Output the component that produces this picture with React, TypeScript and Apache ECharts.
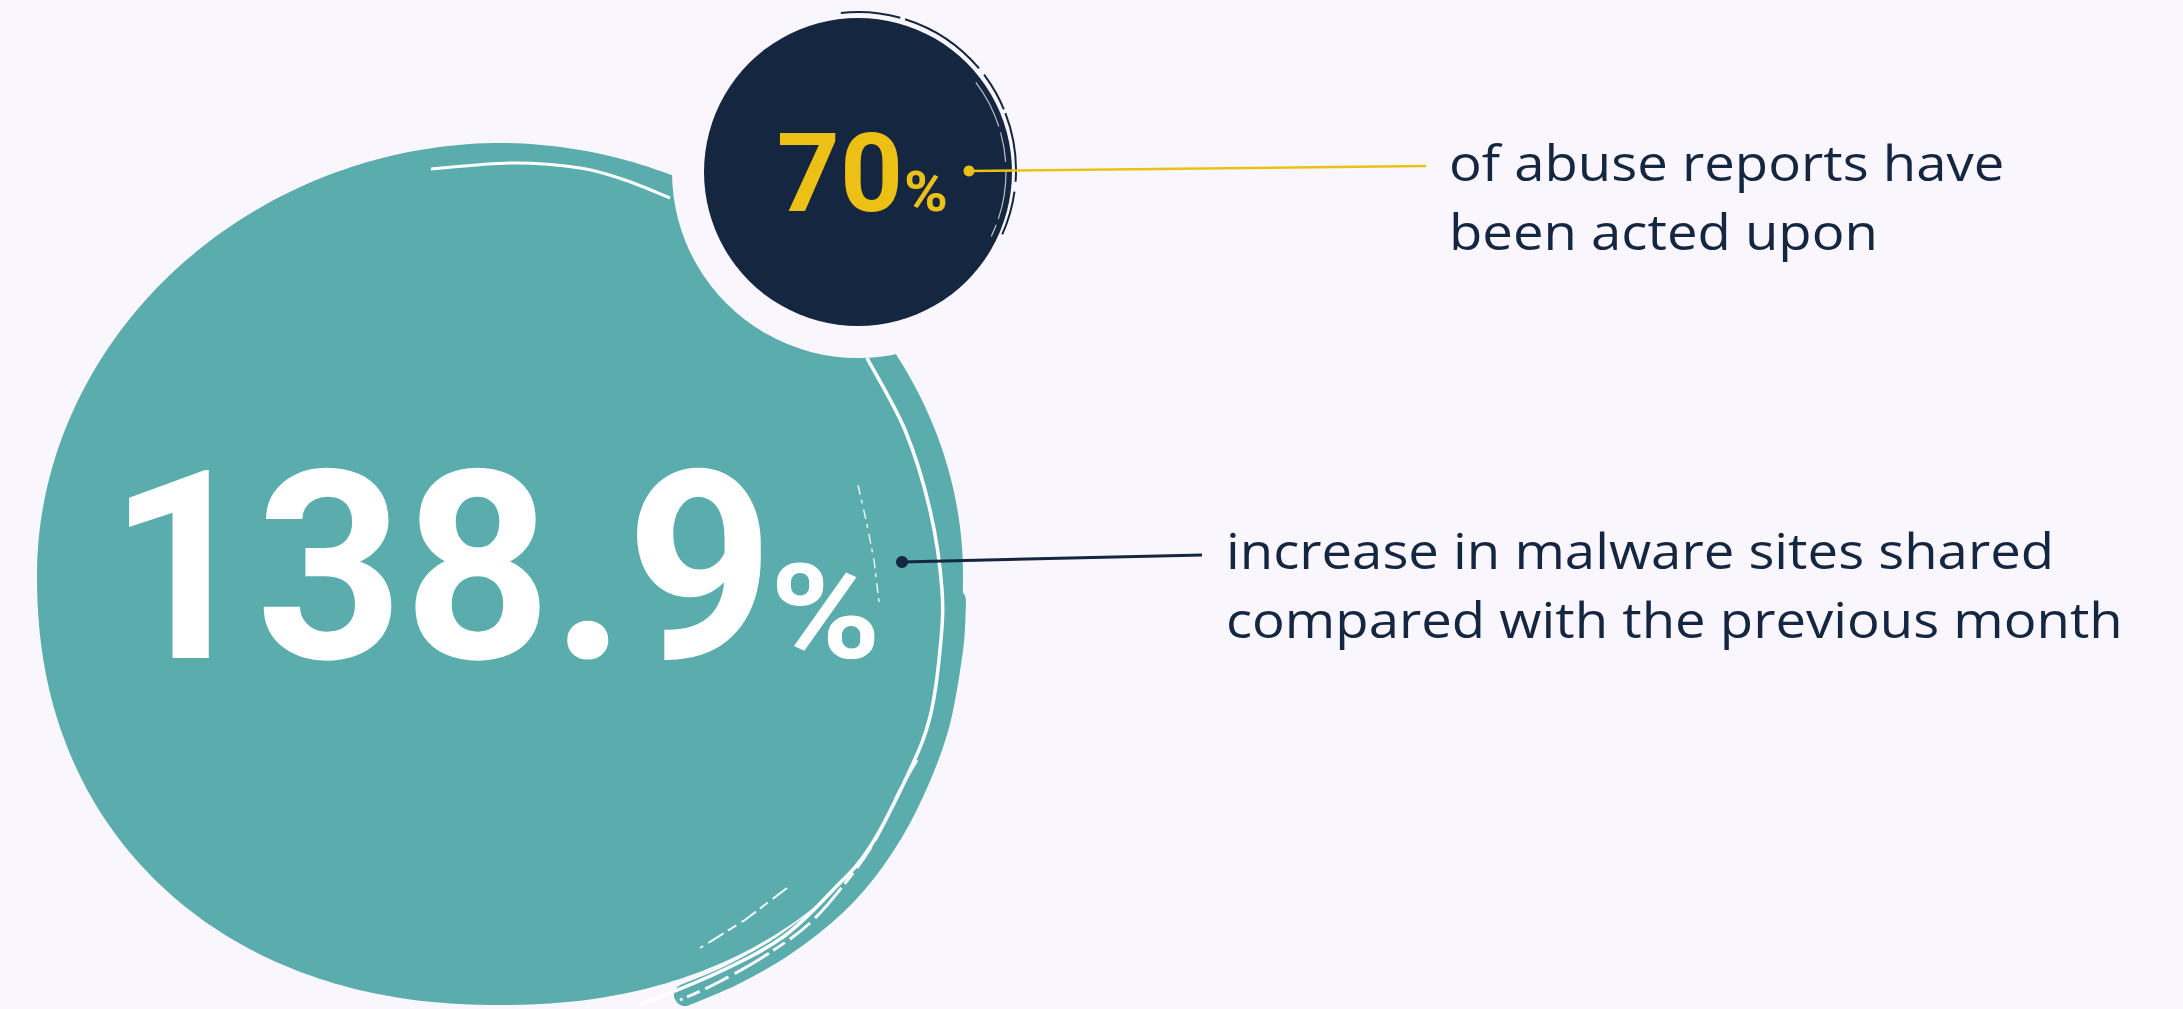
import React, { useEffect, useRef } from 'react';
import * as echarts from 'echarts';

const W = 2183;
const H = 1009;
const BG = '#F9F7FD';
const TEAL = '#5BADAD';
const NAVY = '#142640';
const YELLOW = '#EDC016';
const WHITE = '#FFFFFF';

// data
const statValues = [138.9, 70];
const statUnits = ['%', '%'];
const captionLines = [
  ['increase in malware sites shared', 'compared with the previous month'],
  ['of abuse reports have', 'been acted upon'],
];

// brush-stroke details of the teal blob (decoration only)
const outerBand: number[][] = [
  [955, 600], [952, 650], [937, 730], [907, 805], [874, 860], [835, 905], [783, 946],
  [732, 975], [685, 995],
];
const innerWhiteStroke: number[][] = [
  [867, 358], [905, 430], [930, 510], [942, 590], [940, 650], [930, 717], [910, 770],
  [870, 847], [833, 890], [783, 937], [717, 973], [640, 1005],
];
const outerGapStroke: number[][] = [
  [917, 760], [900, 790], [877, 837], [850, 877], [810, 923], [763, 957], [717, 983], [680, 1000],
];
const topWhiteStroke: number[][] = [[431, 169], [513, 163], [580, 168], [625, 180], [670, 198]];

// blob geometry: a rounded shape whose lower half is slightly squarer than an ellipse
function blobOutline(cx: number, cy: number, rx: number, ry: number): number[][] {
  const pts: number[][] = [];
  for (let i = 0; i < 360; i++) {
    const t = (i * Math.PI) / 180;
    const c = Math.cos(t);
    const s = Math.sin(t);
    const n = s > 0 ? 2.18 : 1.97;
    const e = 2 / n;
    pts.push([
      cx + rx * Math.sign(c) * Math.pow(Math.abs(c), e),
      cy + ry * Math.sign(s) * Math.pow(Math.abs(s), e),
    ]);
  }
  return pts;
}

function smoothOpenPath(pts: number[][]): string {
  const n = pts.length;
  const f = (v: number) => v.toFixed(1);
  let d = `M${f(pts[0][0])} ${f(pts[0][1])}`;
  for (let i = 0; i < n - 1; i++) {
    const p0 = pts[Math.max(i - 1, 0)];
    const p1 = pts[i];
    const p2 = pts[i + 1];
    const p3 = pts[Math.min(i + 2, n - 1)];
    const c1x = p1[0] + (p2[0] - p0[0]) / 6;
    const c1y = p1[1] + (p2[1] - p0[1]) / 6;
    const c2x = p2[0] - (p3[0] - p1[0]) / 6;
    const c2y = p2[1] - (p3[1] - p1[1]) / 6;
    d += ` C${f(c1x)} ${f(c1y)} ${f(c2x)} ${f(c2y)} ${f(p2[0])} ${f(p2[1])}`;
  }
  return d;
}

echarts.graphic.registerShape('outerBand', echarts.graphic.extendPath(smoothOpenPath(outerBand), {}));
echarts.graphic.registerShape('innerStroke', echarts.graphic.extendPath(smoothOpenPath(innerWhiteStroke), {}));
echarts.graphic.registerShape('gapStroke', echarts.graphic.extendPath(smoothOpenPath(outerGapStroke), {}));
echarts.graphic.registerShape('topStroke', echarts.graphic.extendPath(smoothOpenPath(topWhiteStroke), {}));

export default function App() {
  const ref = useRef<HTMLDivElement>(null);

  useEffect(() => {
    document.body.style.margin = '0';
    document.body.style.background = BG;
    const chart = echarts.init(ref.current as HTMLDivElement, null, { renderer: 'svg' });

    const smCx = 858, smCy = 172, smR = 154;
    const numFont = 'Roboto';
    const capFont = 'Open Sans';

    const graphic: any[] = [
      // big teal blob
      {
        type: 'polygon',
        z: 1,
        shape: { points: blobOutline(500, 574, 463, 431) },
        style: { fill: TEAL },
      },
      // outer brushed band on the lower right
      {
        type: 'outerBand',
        z: 1,
        x: 0,
        y: 0,
        style: { stroke: TEAL, lineWidth: 22, fill: 'none', lineCap: 'round' },
      },
      // brush streaks
      { type: 'topStroke', z: 2, x: 0, y: 0, style: { stroke: WHITE, lineWidth: 3, fill: 'none' } },
      { type: 'innerStroke', z: 2, x: 0, y: 0, style: { stroke: WHITE, lineWidth: 3.5, fill: 'none' } },
      {
        type: 'gapStroke',
        z: 2,
        x: 0,
        y: 0,
        style: { stroke: BG, lineWidth: 3, fill: 'none', lineDash: [26, 6, 14, 5, 40, 7] },
      },
      {
        type: 'polyline',
        z: 2,
        shape: { points: [[787, 888], [745, 920], [700, 948]] },
        style: { stroke: WHITE, lineWidth: 2, fill: 'none', lineDash: [18, 6, 10, 5], opacity: 0.9 },
      },
      {
        type: 'polyline',
        z: 2,
        shape: { points: [[858, 485], [866, 520], [874, 560], [879, 602]] },
        style: { stroke: WHITE, lineWidth: 1.5, fill: 'none', lineDash: [10, 5, 4, 6], opacity: 0.85 },
      },
      // cut-out ring around small circle
      { type: 'circle', z: 3, shape: { cx: smCx, cy: smCy, r: 186 }, style: { fill: BG } },
      // navy circle
      { type: 'circle', z: 4, shape: { cx: smCx, cy: smCy, r: smR }, style: { fill: NAVY } },
      {
        type: 'arc',
        z: 4,
        shape: { cx: smCx, cy: smCy - 2, r: 158, startAngle: -1.68, endAngle: 0.42, clockwise: true },
        style: { stroke: NAVY, lineWidth: 2, fill: 'none', lineDash: [60, 5, 90, 8, 40, 4, 70, 10] },
      },
      {
        type: 'arc',
        z: 5,
        shape: { cx: smCx, cy: smCy, r: 148, startAngle: -0.65, endAngle: 0.45, clockwise: true },
        style: { stroke: WHITE, lineWidth: 1.2, fill: 'none', opacity: 0.7, lineDash: [50, 6, 30, 8] },
      },
      // 138.9 %
      {
        type: 'text',
        z: 10,
        x: 774,
        y: 568,
        scaleX: 0.976,
        style: {
          text: String(statValues[0]),
          fill: WHITE,
          fontFamily: numFont,
          fontWeight: 'bold',
          fontSize: 264,
          textAlign: 'right',
          textVerticalAlign: 'middle',
        },
      },
      {
        type: 'text',
        z: 10,
        x: 770,
        y: 613,
        scaleX: 1.135,
        style: {
          text: statUnits[0],
          fill: WHITE,
          fontFamily: numFont,
          fontWeight: 'bold',
          fontSize: 132,
          textAlign: 'left',
          textVerticalAlign: 'middle',
        },
      },
      // 70 %
      {
        type: 'text',
        z: 10,
        x: 903,
        y: 173,
        style: {
          text: String(statValues[1]),
          fill: YELLOW,
          fontFamily: numFont,
          fontWeight: 'bold',
          fontSize: 110,
          textAlign: 'right',
          textVerticalAlign: 'middle',
        },
      },
      {
        type: 'text',
        z: 10,
        x: 904,
        y: 192,
        scaleX: 1.08,
        style: {
          text: statUnits[1],
          fill: YELLOW,
          fontFamily: numFont,
          fontWeight: 'bold',
          fontSize: 55,
          textAlign: 'left',
          textVerticalAlign: 'middle',
        },
      },
      // connectors
      {
        type: 'line',
        z: 11,
        shape: { x1: 969, y1: 171, x2: 1426, y2: 166 },
        style: { stroke: YELLOW, lineWidth: 2.5 },
      },
      { type: 'circle', z: 11, shape: { cx: 969, cy: 171, r: 5.5 }, style: { fill: YELLOW } },
      {
        type: 'line',
        z: 11,
        shape: { x1: 902, y1: 562, x2: 1202, y2: 555 },
        style: { stroke: NAVY, lineWidth: 3 },
      },
      { type: 'circle', z: 11, shape: { cx: 902, cy: 562, r: 6 }, style: { fill: NAVY } },
    ];

    const captionPos = [
      { x: 1226, y: [549, 618] },
      { x: 1449, y: [161, 230] },
    ];
    captionLines.forEach((lines, i) => {
      lines.forEach((line, j) => {
        graphic.push({
          type: 'text',
          z: 10,
          x: captionPos[i].x,
          y: captionPos[i].y[j],
          scaleX: 1.09,
          style: {
            text: line,
            fill: NAVY,
            fontFamily: capFont,
            fontSize: 50,
            textAlign: 'left',
            textVerticalAlign: 'middle',
          },
        });
      });
    });

    chart.setOption({
      animation: false,
      backgroundColor: BG,
      graphic,
    });

    return () => chart.dispose();
  }, []);

  return <div ref={ref} style={{ width: W, height: H }} />;
}
